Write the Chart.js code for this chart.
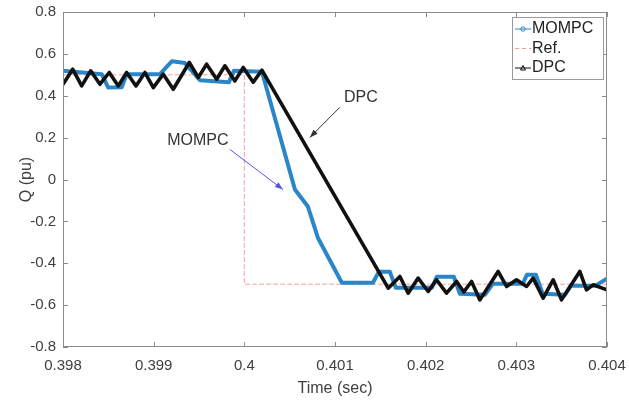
<!DOCTYPE html>
<html>
<head>
<meta charset="utf-8">
<script src="https://cdn.jsdelivr.net/npm/chart.js@4/dist/chart.umd.min.js"></script>
<style>
  html, body { margin: 0; padding: 0; background: #fff; }
  canvas { display: block; }
</style>
</head>
<body>
<canvas id="qChart" width="629" height="405"></canvas>
<script>
// tick values / labels
const xTicks = [0.398, 0.399, 0.4, 0.401, 0.402, 0.403, 0.404];
const xTickLabels = ["0.398", "0.399", "0.4", "0.401", "0.402", "0.403", "0.404"];
const yTicks = [-0.8, -0.6, -0.4, -0.2, 0, 0.2, 0.4, 0.6, 0.8];
const yTickLabels = ["-0.8", "-0.6", "-0.4", "-0.2", "0", "0.2", "0.4", "0.6", "0.8"];

// MOMPC (blue) - time / Q
const mompcT = [0.398, 0.398427, 0.398499, 0.398647, 0.398702, 0.399069, 0.399202, 0.399345,
  0.39951, 0.39983, 0.399885, 0.400194, 0.400558, 0.400701, 0.400811, 0.401076, 0.401418,
  0.401484, 0.401605, 0.401671, 0.402068, 0.402123, 0.402311, 0.402377, 0.402653, 0.402741,
  0.403072, 0.403116, 0.403215, 0.403292, 0.403535, 0.403601, 0.403866, 0.404];
const mompcQ = [0.52, 0.503, 0.439, 0.441, 0.503, 0.503, 0.565, 0.556,
  0.474, 0.465, 0.519, 0.515, -0.048, -0.129, -0.278, -0.493, -0.493,
  -0.441, -0.441, -0.517, -0.517, -0.465, -0.465, -0.546, -0.551, -0.498,
  -0.498, -0.455, -0.455, -0.546, -0.551, -0.508, -0.508, -0.474];

// DPC (black)
const dpcT = [0.398, 0.398107, 0.398206, 0.398305, 0.398408, 0.39851, 0.39861, 0.398702,
  0.398805, 0.398904, 0.398996, 0.399106, 0.399216, 0.399393, 0.399492, 0.399584, 0.399695,
  0.399786, 0.399896, 0.399988, 0.400098, 0.400194, 0.401587, 0.401716, 0.401807, 0.401917,
  0.402028, 0.40212, 0.40223, 0.402341, 0.402421, 0.402506, 0.402598, 0.402799, 0.402892,
  0.403002, 0.403113, 0.403185, 0.403296, 0.403406, 0.403498, 0.4037, 0.403774, 0.403847, 0.404];
const dpcQ = [0.455, 0.527, 0.447, 0.519, 0.455, 0.511, 0.447, 0.511,
  0.447, 0.511, 0.439, 0.503, 0.431, 0.559, 0.487, 0.551, 0.479,
  0.543, 0.471, 0.535, 0.465, 0.522, -0.519, -0.463, -0.543, -0.471,
  -0.535, -0.479, -0.543, -0.487, -0.537, -0.487, -0.575, -0.439, -0.511,
  -0.479, -0.511, -0.471, -0.567, -0.479, -0.575, -0.439, -0.527, -0.503, -0.527];

// reference step
const refT = [0.398, 0.4, 0.4, 0.404];
const refQ = [0.5, 0.5, -0.5, -0.5];

const FONT = "'Liberation Sans', Arial, Helvetica, sans-serif";
const AXIS_COLOR = "#8a8a8a";

function toPoints(ts, qs) {
  return ts.map((t, i) => ({ x: t, y: qs[i] }));
}

// text + arrow annotations, in data units
const notes = [
  { text: "DPC", at: [0.4011, 0.39], align: "left", from: [0.401054, 0.345], to: [0.400723, 0.201], color: "#333333" },
  { text: "MOMPC", at: [0.399488, 0.187], align: "center", from: [0.39984, 0.144], to: [0.400426, -0.048], color: "#5555ee" },
];

const boxPlugin = {
  id: "boxPlugin",
  afterDatasetsDraw(chart) {
    const { ctx, chartArea: a, scales } = chart;
    ctx.save();
    ctx.strokeStyle = AXIS_COLOR;
    ctx.lineWidth = 1;
    ctx.strokeRect(a.left + 0.5, a.top + 0.5, a.right - a.left - 1, a.bottom - a.top - 1);
    // inward ticks on all four sides
    ctx.beginPath();
    xTicks.forEach(v => {
      const px = Math.round(scales.x.getPixelForValue(v)) + 0.5;
      ctx.moveTo(px, a.bottom); ctx.lineTo(px, a.bottom - 5);
      ctx.moveTo(px, a.top); ctx.lineTo(px, a.top + 5);
    });
    yTicks.forEach(v => {
      const py = Math.round(scales.y.getPixelForValue(v)) + 0.5;
      ctx.moveTo(a.left, py); ctx.lineTo(a.left + 5, py);
      ctx.moveTo(a.right, py); ctx.lineTo(a.right - 5, py);
    });
    ctx.stroke();

    // annotations
    notes.forEach(n => {
      const x1 = scales.x.getPixelForValue(n.from[0]), y1 = scales.y.getPixelForValue(n.from[1]);
      const x2 = scales.x.getPixelForValue(n.to[0]), y2 = scales.y.getPixelForValue(n.to[1]);
      ctx.strokeStyle = n.color;
      ctx.fillStyle = n.color;
      ctx.lineWidth = 1;
      ctx.beginPath(); ctx.moveTo(x1, y1); ctx.lineTo(x2, y2); ctx.stroke();
      const ang = Math.atan2(y2 - y1, x2 - x1);
      ctx.beginPath();
      ctx.moveTo(x2, y2);
      ctx.lineTo(x2 - 8 * Math.cos(ang) + 3 * Math.sin(ang), y2 - 8 * Math.sin(ang) - 3 * Math.cos(ang));
      ctx.lineTo(x2 - 8 * Math.cos(ang) - 3 * Math.sin(ang), y2 - 8 * Math.sin(ang) + 3 * Math.cos(ang));
      ctx.closePath(); ctx.fill();
      ctx.fillStyle = "#333333";
      ctx.font = "16px " + FONT;
      ctx.textAlign = n.align;
      ctx.textBaseline = "middle";
      ctx.fillText(n.text, scales.x.getPixelForValue(n.at[0]), scales.y.getPixelForValue(n.at[1]));
    });

    // legend box, top right inside the axes
    const bw = 91, bh = 62;
    const bx = a.right - bw - 4, by = a.top + 5;
    ctx.fillStyle = "#ffffff";
    ctx.fillRect(bx, by, bw, bh);
    ctx.strokeStyle = "#9a9a9a";
    ctx.strokeRect(bx + 0.5, by + 0.5, bw, bh);
    ctx.font = "16px " + FONT;
    ctx.textAlign = "left";
    ctx.textBaseline = "middle";
    chart.data.datasets.forEach((ds, i) => {
      const ly = by + 12 + i * 19.5;
      ctx.strokeStyle = ds.borderColor;
      ctx.lineWidth = 1;
      ctx.setLineDash(ds.borderDash || []);
      ctx.beginPath(); ctx.moveTo(bx + 3, ly); ctx.lineTo(bx + 19, ly); ctx.stroke();
      ctx.setLineDash([]);
      if (ds.label === "MOMPC") {
        ctx.beginPath(); ctx.arc(bx + 11, ly, 2.2, 0, Math.PI * 2); ctx.stroke();
      } else if (ds.label === "DPC") {
        ctx.beginPath();
        ctx.moveTo(bx + 11, ly - 2.5); ctx.lineTo(bx + 13.5, ly + 2); ctx.lineTo(bx + 8.5, ly + 2);
        ctx.closePath(); ctx.stroke();
      }
      ctx.fillStyle = "#222222";
      ctx.fillText(ds.label, bx + 20, ly);
    });
    ctx.restore();
  }
};

new Chart(document.getElementById("qChart").getContext("2d"), {
  type: "line",
  data: {
    datasets: [
      {
        label: "MOMPC",
        data: toPoints(mompcT, mompcQ),
        borderColor: "#2a86c8",
        borderWidth: 4,
        order: 2,
      },
      {
        label: "Ref.",
        data: toPoints(refT, refQ),
        borderColor: "#f2a09a",
        borderWidth: 1,
        borderDash: [4, 3],
        order: 3,
      },
      {
        label: "DPC",
        data: toPoints(dpcT, dpcQ),
        borderColor: "#111111",
        borderWidth: 3.6,
        order: 1,
      },
    ],
  },
  options: {
    responsive: false,
    animation: false,
    devicePixelRatio: 1,
    layout: { padding: { left: 0, right: 22, top: 12, bottom: 0 } },
    elements: {
      point: { radius: 0 },
      line: { tension: 0, borderJoinStyle: "round", borderCapStyle: "round", fill: false },
    },
    scales: {
      x: {
        type: "linear",
        min: 0.398,
        max: 0.404,
        afterBuildTicks: s => { s.ticks = xTicks.map(v => ({ value: v })); },
        afterFit: s => { s.height = 58; s.paddingLeft = 0; s.paddingRight = 0; },
        grid: { display: false, drawTicks: false },
        border: { display: false },
        ticks: {
          padding: 10,
          color: "#404040",
          font: { family: FONT, size: 15 },
          maxRotation: 0,
          callback: (v, i) => xTickLabels[i],
        },
        title: {
          display: true,
          text: "Time (sec)",
          color: "#404040",
          font: { family: FONT, size: 16 },
          padding: { top: 0, bottom: 7 },
        },
      },
      y: {
        type: "linear",
        min: -0.8,
        max: 0.8,
        afterBuildTicks: s => { s.ticks = yTicks.map(v => ({ value: v })); },
        afterFit: s => { s.width = 63; s.paddingTop = 0; s.paddingBottom = 0; },
        grid: { display: false, drawTicks: false },
        border: { display: false },
        ticks: {
          padding: 7,
          color: "#404040",
          font: { family: FONT, size: 15 },
          callback: (v, i) => yTickLabels[i],
        },
        title: {
          display: true,
          text: "Q (pu)",
          color: "#404040",
          font: { family: FONT, size: 16 },
          padding: { top: 17, bottom: 0 },
        },
      },
    },
    plugins: {
      legend: { display: false },
      tooltip: { enabled: false },
    },
  },
  plugins: [boxPlugin],
});
</script>
</body>
</html>
